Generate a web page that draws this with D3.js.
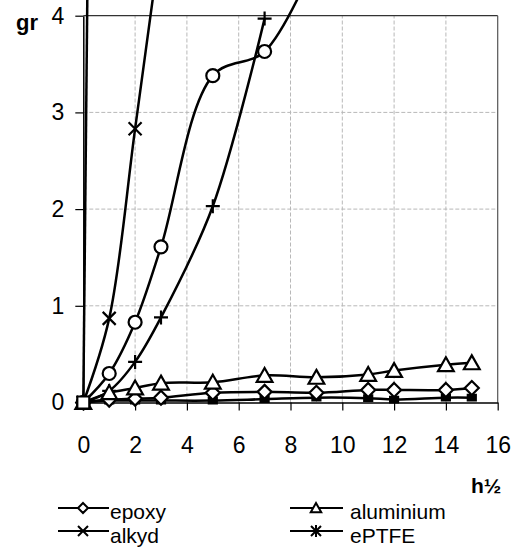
<!DOCTYPE html>
<html>
<head>
<meta charset="utf-8">
<script src="https://cdn.jsdelivr.net/npm/d3@7"></script>
<style>
  html, body { margin: 0; padding: 0; background: #fff; }
  svg { display: block; font-family: "Liberation Sans", Arial, sans-serif; }
</style>
</head>
<body>
<svg id="chart" width="515" height="548"></svg>
<script>
// ---------- data ----------
const xTicks = [0, 2, 4, 6, 8, 10, 12, 14, 16];
const yTicks = [0, 1, 2, 3, 4];
const xLong = [0, 1, 2, 3, 5, 7, 9, 11, 12, 14, 15];

const epoxyY     = [0, 0.03, 0.04, 0.05, 0.10, 0.11, 0.10, 0.13, 0.13, 0.13, 0.15];
const aluminiumY = [0, 0.10, 0.15, 0.20, 0.21, 0.28, 0.26, 0.29, 0.33, 0.39, 0.41];
const darkSqY    = [0, 0.02, 0.02, 0.02, 0.02, 0.035, 0.05, 0.045, 0.03, 0.05, 0.05];

const alkydX = [0, 1, 2, 3];
const alkydY = [0, 0.87, 2.83, 4.8];
const eptfeX = [0, 1];
const eptfeY = [0, 27];
const circleX = [0, 1, 2, 3, 5, 7, 9];
const circleY = [0, 0.30, 0.83, 1.61, 3.38, 3.63, 4.6];
const plusX = [0, 1, 2, 3, 5, 7];
const plusY = [0, 0.12, 0.42, 0.88, 2.03, 3.97];
const squareX = [0];
const squareY = [0];

const legendNames = ["epoxy", "aluminium", "alkyd", "ePTFE"];
const legendMarkers = ["diamond", "triangle", "cross", "asterisk"];

// ---------- setup ----------
const svg = d3.select("#chart");
svg.append("rect").attr("width", 515).attr("height", 548).attr("fill", "#fff");

const x = d3.scaleLinear().domain([0, 16]).range([83.3, 497.7]);
const y = d3.scaleLinear().domain([0, 4]).range([402.5, 15.7]);

const FONT = 23;

// gridlines
const grid = svg.append("g");
grid.selectAll("line.gx").data(xTicks.filter(d => d > 0 && d < 16)).join("line")
  .attr("x1", d => x(d)).attr("x2", d => x(d))
  .attr("y1", y(0)).attr("y2", y(4))
  .attr("stroke", "#b8b8b8").attr("stroke-width", 1).attr("stroke-dasharray", "4,2");
grid.selectAll("line.gy").data(yTicks.filter(d => d > 0 && d < 4)).join("line")
  .attr("x1", x(0)).attr("x2", x(16))
  .attr("y1", d => y(d)).attr("y2", d => y(d))
  .attr("stroke", "#b8b8b8").attr("stroke-width", 1).attr("stroke-dasharray", "4,2");

// plot border (top, right)
svg.append("line").attr("x1", x(0)).attr("x2", x(16)).attr("y1", y(4)).attr("y2", y(4))
  .attr("stroke", "#333").attr("stroke-width", 1.2);
svg.append("line").attr("x1", x(16)).attr("x2", x(16)).attr("y1", y(4)).attr("y2", y(0))
  .attr("stroke", "#555").attr("stroke-width", 1.2);

// axes
const xAxis = svg.append("g").attr("transform", `translate(0,${y(0)})`)
  .call(d3.axisBottom(x).tickValues(xTicks).tickFormat(d3.format("d"))
    .tickSizeInner(8).tickSizeOuter(0).tickPadding(26));
const yAxis = svg.append("g").attr("transform", `translate(${x(0)},0)`)
  .call(d3.axisLeft(y).tickValues(yTicks).tickFormat(d3.format("d"))
    .tickSizeInner(8).tickSizeOuter(0).tickPadding(11));
[xAxis, yAxis].forEach(g => {
  g.select(".domain").attr("stroke", "#000").attr("stroke-width", 1.5);
  g.selectAll(".tick line").attr("stroke", "#000").attr("stroke-width", 1.2);
  g.selectAll(".tick text").attr("fill", "#000")
    .style("font-family", '"Liberation Sans", Arial, sans-serif').style("font-size", FONT + "px");
});

// axis titles
svg.append("text").attr("x", 16).attr("y", 30).text("gr")
  .style("font-size", "22px").style("font-weight", "bold").attr("fill", "#000");
svg.append("text").attr("x", 471).attr("y", 493).text("h\u00BD")
  .style("font-size", "21px").style("font-weight", "bold").attr("fill", "#000");

// ---------- markers ----------
function markerPath(type, s) {
  const p = d3.path();
  switch (type) {
    case "diamond":
      p.moveTo(0, -s); p.lineTo(s, 0); p.lineTo(0, s); p.lineTo(-s, 0); p.closePath(); break;
    case "triangle":
      p.moveTo(0, -s * 1.0); p.lineTo(s * 1.05, s * 0.85); p.lineTo(-s * 1.05, s * 0.85); p.closePath(); break;
    case "circle":
      p.moveTo(s, 0); p.arc(0, 0, s, 0, 2 * Math.PI); p.closePath(); break;
    case "cross":
      p.moveTo(-s, -s); p.lineTo(s, s); p.moveTo(s, -s); p.lineTo(-s, s); break;
    case "plus":
      p.moveTo(-s, 0); p.lineTo(s, 0); p.moveTo(0, -s); p.lineTo(0, s); break;
    case "asterisk":
      p.moveTo(-s, -s); p.lineTo(s, s); p.moveTo(s, -s); p.lineTo(-s, s);
      p.moveTo(0, -s * 1.2); p.lineTo(0, s * 1.2); break;
    case "square":
      p.rect(-s, -s, 2 * s, 2 * s); break;
    case "smallsq":
      p.rect(-s, -s * 0.7, 2 * s, 1.4 * s); break;
  }
  return p.toString();
}
const filled = { smallsq: true };

const series = [
  { xs: eptfeX,  ys: eptfeY,     marker: "asterisk", size: 6 },
  { xs: alkydX,  ys: alkydY,     marker: "cross",    size: 6.5 },
  { xs: circleX, ys: circleY,    marker: "circle",   size: 6.5 },
  { xs: plusX,   ys: plusY,      marker: "plus",     size: 7 },
  { xs: xLong,   ys: darkSqY,    marker: "smallsq",  size: 4 },
  { xs: xLong,   ys: epoxyY,     marker: "diamond",  size: 7 },
  { xs: xLong,   ys: aluminiumY, marker: "triangle", size: 7.5 },
  { xs: squareX, ys: squareY,    marker: "square",   size: 6 }
];

const clipId = "plotclip";
svg.append("defs").append("clipPath").attr("id", clipId)
  .append("rect").attr("x", 0).attr("y", 0).attr("width", 515).attr("height", 548);

const line = d3.line().x(d => x(d[0])).y(d => y(d[1])).curve(d3.curveCatmullRom.alpha(0.5));
const plot = svg.append("g").attr("clip-path", `url(#${clipId})`);

series.forEach(s => {
  const pts = s.xs.map((v, i) => [v, s.ys[i]]);
  if (pts.length > 1) {
    plot.append("path").datum(pts).attr("d", line)
      .attr("fill", "none").attr("stroke", "#000").attr("stroke-width", 2.5);
  }
});
series.forEach(s => {
  const pts = s.xs.map((v, i) => [v, s.ys[i]]);
  plot.selectAll(null).data(pts.filter(d => y(d[1]) > -20)).join("path")
    .attr("transform", d => `translate(${x(d[0])},${y(d[1])})`)
    .attr("d", markerPath(s.marker, s.size))
    .attr("fill", filled[s.marker] ? "#000" : "#fff")
    .attr("stroke", "#000").attr("stroke-width", 2.2);
});

// ---------- legend ----------
const LFONT = 21;
const legendPos = [
  { lx: 58, mx: 83, lx2: 109, tx: 110, ly: 508, ty: 519 },
  { lx: 290, mx: 316, lx2: 343, tx: 350, ly: 508, ty: 519 },
  { lx: 58, mx: 83, lx2: 109, tx: 110, ly: 531, ty: 543 },
  { lx: 290, mx: 316, lx2: 343, tx: 350, ly: 531, ty: 543 }
];
legendNames.forEach((name, i) => {
  const p = legendPos[i];
  const g = svg.append("g");
  g.append("line").attr("x1", p.lx).attr("x2", p.lx2).attr("y1", p.ly).attr("y2", p.ly)
    .attr("stroke", "#000").attr("stroke-width", 2.2);
  g.append("path").attr("transform", `translate(${p.mx},${p.ly})`)
    .attr("d", markerPath(legendMarkers[i], 5))
    .attr("fill", "#fff").attr("stroke", "#000").attr("stroke-width", 2);
  g.append("text").attr("x", p.tx).attr("y", p.ty).text(name)
    .style("font-size", LFONT + "px").attr("fill", "#000");
});
</script>
</body>
</html>
